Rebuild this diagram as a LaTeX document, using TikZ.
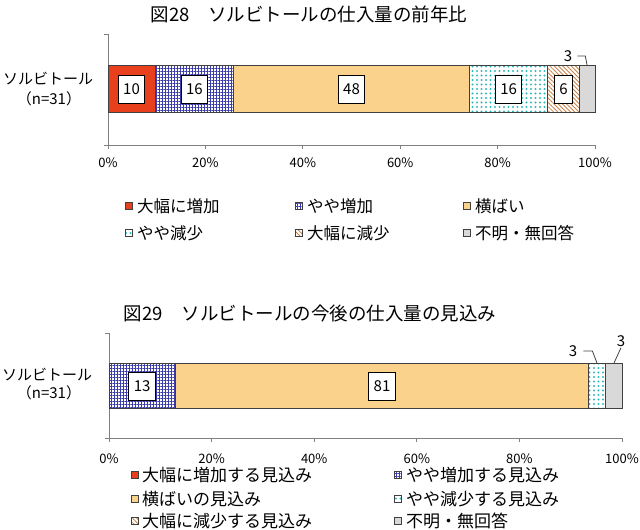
\documentclass[tikz,border=0pt]{standalone}
\usepackage{fontspec}
\setmainfont{Noto Sans CJK JP}
\usetikzlibrary{patterns.meta}

\definecolor{barred}{RGB}{232,64,28}
\definecolor{barblue}{RGB}{60,60,170}
\definecolor{barorange}{RGB}{250,210,140}
\definecolor{barteal}{RGB}{50,185,185}
\definecolor{barbrown}{RGB}{200,130,70}
\definecolor{bargray}{RGB}{217,217,217}
\definecolor{barline}{RGB}{64,64,64}
\definecolor{axisgray}{RGB}{128,128,128}

\tikzset{
  seg/.style={draw=barline, line width=0.9pt},
  gridfill/.style={pattern={Hatch[angle=0, distance=3pt, line width=0.6pt]}, pattern color=barblue},
  dotfill/.style={pattern color=barteal, pattern={Dots[distance=4.5pt, radius=1.1pt]}},
  hatchfill/.style={pattern={Lines[angle=-45, distance=3pt, line width=0.8pt]}, pattern color=barbrown},
  axisline/.style={draw=axisgray, line width=0.9pt},
  val/.style={draw=black, fill=white, line width=1pt, inner xsep=5pt,
    minimum height=28pt, font=\fontsize{15}{15}\selectfont},
  ttl/.style={font=\fontsize{18.5}{20}\selectfont},
  cat/.style={font=\fontsize{15}{16}\selectfont},
  tick/.style={font=\fontsize{13}{14}\selectfont},
  lab/.style={font=\fontsize{15}{15}\selectfont, inner sep=1pt},
  lead/.style={draw=barline, line width=0.8pt},
  key/.style={draw=barline, line width=0.7pt, minimum size=7pt, inner sep=0pt},
  keytext/.style={anchor=west, inner sep=0pt, font=\fontsize{16.5}{17}\selectfont},
  keytextb/.style={anchor=west, inner sep=0pt, font=\fontsize{17}{18}\selectfont}
}

\begin{document}
\begin{tikzpicture}[x=1pt, y=-1pt]
\useasboundingbox (0,0) rectangle (640,530);

% chart 28
\node[ttl] (t28) at (309,14) {図28　ソルビトールの仕入量の前年比};
\node[cat] (c28a) at (48,79) {ソルビトール};
\node[cat] (c28b) at (49,99) {（n=31）};

\draw[axisline] (104,34) -- (108,34) -- (108,145) -- (595,145);
\draw[axisline] (104,145) -- (108,145);
\draw[axisline] (108,145) -- (108,149);
\draw[axisline] (205.4,145) -- (205.4,149);
\draw[axisline] (302.8,145) -- (302.8,149);
\draw[axisline] (400.2,145) -- (400.2,149);
\draw[axisline] (497.6,145) -- (497.6,149);
\draw[axisline] (595,145) -- (595,149);

\node[tick] (a0) at (108,163) {0\%};
\node[tick] (a20) at (205.4,163) {20\%};
\node[tick] (a40) at (302.8,163) {40\%};
\node[tick] (a60) at (400.2,163) {60\%};
\node[tick] (a80) at (497.6,163) {80\%};
\node[tick] (a100) at (595,163) {100\%};

\draw[seg, fill=barred] (108,65) rectangle (155.1,112);
\draw[seg, gridfill] (155.1,65) rectangle (233.7,112);
\draw[seg, fill=barorange] (233.7,65) rectangle (469.3,112);
\draw[seg, dotfill] (469.3,65) rectangle (547.9,112);
\draw[seg, hatchfill] (547.9,65) rectangle (579.3,112);
\draw[seg, fill=bargray] (579.3,65) rectangle (595,112);

\node[val] (v28a) at (131.5,89) {10};
\node[val] (v28b) at (194.4,89) {16};
\node[val] (v28c) at (351.5,89) {48};
\node[val] (v28d) at (508.6,89) {16};
\node[val] (v28e) at (563.6,89) {6};

\node[lab] (n28) at (568,56) {3};
\coordinate (g28) at (587,65);
\draw[lead] (n28.east) ++(4,0) -- ++(8,0) -- (g28);

\node[key, fill=barred] (k28a) at (129,206) {};
\node[keytext] (l28a) at (137,206) {大幅に増加};
\node[key, gridfill] (k28b) at (299,206) {};
\node[keytext] (l28b) at (307,206) {やや増加};
\node[key, fill=barorange] (k28c) at (467,206) {};
\node[keytext] (l28c) at (475,206) {横ばい};
\node[key, dotfill] (k28d) at (129,233) {};
\node[keytext] (l28d) at (137,233) {やや減少};
\node[key, hatchfill] (k28e) at (299,233) {};
\node[keytext] (l28e) at (307,233) {大幅に減少};
\node[key, fill=bargray] (k28f) at (467,233) {};
\node[keytext] (l28f) at (475,233) {不明・無回答};

% chart 29
\node[ttl] (t29) at (310,313) {図29　ソルビトールの今後の仕入量の見込み};
\node[cat] (c29a) at (47,375) {ソルビトール};
\node[cat] (c29b) at (49,393) {（n=31）};

\draw[axisline] (105,333) -- (109,333) -- (109,438) -- (622,438);
\draw[axisline] (105,438) -- (109,438);
\draw[axisline] (109,438) -- (109,442);
\draw[axisline] (211.6,438) -- (211.6,442);
\draw[axisline] (314.2,438) -- (314.2,442);
\draw[axisline] (416.8,438) -- (416.8,442);
\draw[axisline] (519.4,438) -- (519.4,442);
\draw[axisline] (622,438) -- (622,442);

\node[tick] (b0) at (109,459) {0\%};
\node[tick] (b20) at (211.6,459) {20\%};
\node[tick] (b40) at (314.2,459) {40\%};
\node[tick] (b60) at (416.8,459) {60\%};
\node[tick] (b80) at (519.4,459) {80\%};
\node[tick] (b100) at (622,459) {100\%};

\draw[seg, gridfill] (109,363) rectangle (175.2,408);
\draw[seg, fill=barorange] (175.2,363) rectangle (588.9,408);
\draw[seg, dotfill] (588.9,363) rectangle (605.4,408);
\draw[seg, fill=bargray] (605.4,363) rectangle (622,408);

\node[val] (v29a) at (142.1,386) {13};
\node[val] (v29b) at (382,386) {81};

\node[lab] (n29a) at (573,351) {3};
\coordinate (g29a) at (597,363);
\draw[lead] (n29a.east) ++(5,0) -- ++(9,0) -- (g29a);
\node[lab] (n29b) at (621,341) {3};
\coordinate (g29b) at (614,363);
\draw[lead] (n29b.south) -- (g29b);

\node[key, fill=barred] (k29a) at (135,475) {};
\node[keytextb] (l29a) at (142,475) {大幅に増加する見込み};
\node[key, gridfill] (k29b) at (398,475) {};
\node[keytextb] (l29b) at (406,475) {やや増加する見込み};
\node[key, fill=barorange] (k29c) at (135,499) {};
\node[keytextb] (l29c) at (142,499) {横ばいの見込み};
\node[key, dotfill] (k29d) at (398,499) {};
\node[keytextb] (l29d) at (406,499) {やや減少する見込み};
\node[key, hatchfill] (k29e) at (135,521) {};
\node[keytextb] (l29e) at (142,521) {大幅に減少する見込み};
\node[key, fill=bargray] (k29f) at (398,521) {};
\node[keytextb] (l29f) at (406,521) {不明・無回答};
\end{tikzpicture}
\end{document}
